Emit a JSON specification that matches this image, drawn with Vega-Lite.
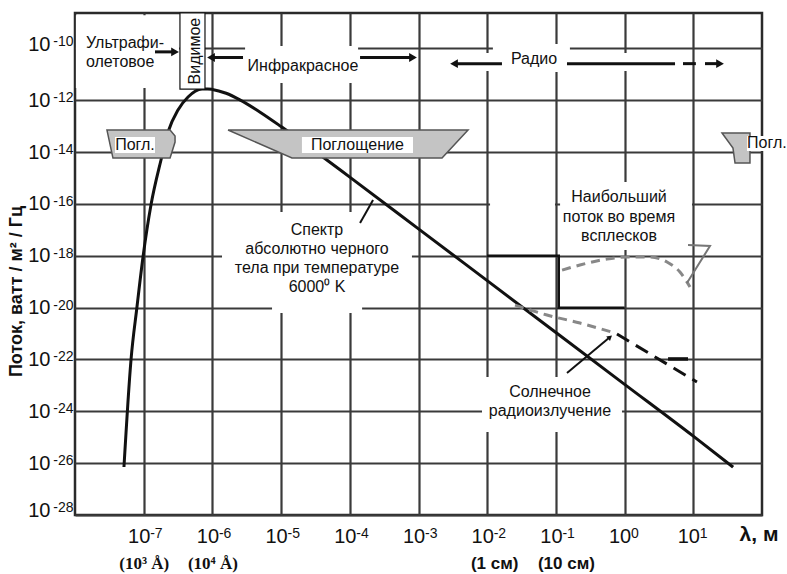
{
  "$schema": "https://vega.github.io/schema/vega-lite/v6.json",
  "width": 687,
  "height": 502,
  "autosize": {"type": "none"},
  "padding": {"left": 75, "top": 13, "right": 25, "bottom": 59},
  "background": "white",
  "config": {
    "view": {"stroke": "#2a2a2a", "strokeWidth": 2.5},
    "font": "Liberation Sans",
    "text": {"font": "Liberation Sans", "fontSize": 16, "color": "#111111"}
  },
  "datasets": {
    "wbox": [
      {"x": 1.03e-8, "x2": 3.27e-7, "y": 2.98e-12, "y2": 1.9e-9},
      {"x": 2.99e-6, "x2": 1.32e-4, "y": 4.64e-12, "y2": 1.24e-10},
      {"x": 2.43e-3, "x2": 8.95, "y": 1.35e-11, "y2": 6.67e-11},
      {"x": 0.0121, "x2": 0.16, "y": 1.23e-11, "y2": 1.48e-10},
      {"x": 1.38e-6, "x2": 8.03e-4, "y": 2.81e-20, "y2": 4.9e-17},
      {"x": 7.38e-6, "x2": 1.51e-4, "y": 6.21e-21, "y2": 4.79e-20},
      {"x": 0.115, "x2": 9.57, "y": 1.67e-18, "y2": 7.03e-16},
      {"x": 0.011, "x2": 0.097, "y": 6.4e-17, "y2": 1.42e-16},
      {"x": 8.4e-3, "x2": 0.916, "y": 1.59e-25, "y2": 2.11e-23}
    ],
    "bb": [
      {"x": 5.16e-8, "y": 7.11e-27},
      {"x": 6.53e-8, "y": 9.55e-23},
      {"x": 7.98e-8, "y": 1.06e-20},
      {"x": 9.77e-8, "y": 9.0e-19},
      {"x": 1.276e-7, "y": 9.12e-17},
      {"x": 1.786e-7, "y": 4.97e-15},
      {"x": 2.26e-7, "y": 5.97e-14},
      {"x": 3.155e-7, "y": 4.22e-13},
      {"x": 4.42e-7, "y": 1.34e-12},
      {"x": 7.06e-7, "y": 2.72e-12},
      {"x": 8.5e-7, "y": 2.76e-12},
      {"x": 1.0e-6, "y": 2.64e-12},
      {"x": 1.585e-6, "y": 1.87e-12},
      {"x": 2.512e-6, "y": 1.04e-12},
      {"x": 5.012e-6, "y": 3.41e-13},
      {"x": 1e-5, "y": 9.7e-14},
      {"x": 3.162e-5, "y": 1.06e-14},
      {"x": 1e-4, "y": 1.09e-15},
      {"x": 1e-3, "y": 1.1e-17},
      {"x": 1e-2, "y": 1.1e-19},
      {"x": 0.1, "y": 1.1e-21},
      {"x": 1, "y": 1.1e-23},
      {"x": 10, "y": 1.1e-25},
      {"x": 38, "y": 7.0e-27}
    ],
    "absorb": [
      {"id": "L", "x": 2.92e-8, "y": 7.13e-14, "y2": 7.13e-14},
      {"id": "L", "x": 3.57e-8, "y": 5.93e-15, "y2": 7.13e-14},
      {"id": "L", "x": 2.42e-7, "y": 5.93e-15, "y2": 7.13e-14},
      {"id": "L", "x": 2.86e-7, "y": 2.45e-14, "y2": 4.19e-14},
      {"id": "M", "x": 1.69e-6, "y": 7.13e-14, "y2": 7.13e-14},
      {"id": "M", "x": 1.44e-5, "y": 5.93e-15, "y2": 7.13e-14},
      {"id": "M", "x": 2.2e-3, "y": 5.93e-15, "y2": 7.13e-14},
      {"id": "M", "x": 5.26e-3, "y": 7.13e-14, "y2": 7.13e-14},
      {"id": "R", "x": 26.2, "y": 5.47e-14, "y2": 5.47e-14},
      {"id": "R", "x": 37.8, "y": 1.44e-14, "y2": 5.47e-14},
      {"id": "R", "x": 40.5, "y": 3.8e-15, "y2": 5.47e-14},
      {"id": "R", "x": 66.8, "y": 3.8e-15, "y2": 5.47e-14}
    ],
    "lbox": [
      {"x": 3.82e-8, "x2": 1.46e-7, "y": 9.25e-15, "y2": 3.83e-14},
      {"x": 2.01e-5, "x2": 8.32e-4, "y": 9.25e-15, "y2": 3.83e-14},
      {"x": 60.5, "x2": 231, "y": 1.1e-14, "y2": 4.19e-14}
    ],
    "step": [
      {"o": 1, "x": 0.01, "y": 1e-18},
      {"o": 2, "x": 0.11, "y": 1e-18},
      {"o": 3, "x": 0.11, "y": 1e-20},
      {"o": 4, "x": 1.0, "y": 1e-20}
    ],
    "burst": [
      {"x": 0.123, "y": 2.82e-19},
      {"x": 0.224, "y": 4.42e-19},
      {"x": 0.555, "y": 7.53e-19},
      {"x": 1.08, "y": 9.0e-19},
      {"x": 2.34, "y": 9.0e-19},
      {"x": 4.14, "y": 5.77e-19},
      {"x": 6.4, "y": 2.37e-19},
      {"x": 8.95, "y": 6.31e-20}
    ],
    "hook": [
      {"o": 1, "x": 8.38, "y": 2.63e-18},
      {"o": 2, "x": 17.5, "y": 2.4e-18},
      {"o": 3, "x": 8.09, "y": 8.9e-20}
    ],
    "quiet": [
      {"x": 0.0254, "y": 1.26e-20},
      {"x": 0.0741, "y": 5.2e-21},
      {"x": 0.224, "y": 2.55e-21},
      {"x": 0.724, "y": 1.05e-21}
    ],
    "quiet2": [
      {"x": 0.774, "y": 9.6e-22},
      {"x": 11.3, "y": 1.35e-23}
    ],
    "bar": [{"x": 4.29, "x2": 8.38, "y": 1.05e-22}],
    "ptr": [
      {"x": 1.41e-4, "x2": 2.18e-4, "y": 1.86e-17, "y2": 1.42e-16},
      {"x": 0.145, "x2": 0.614, "y": 3.02e-23, "y2": 7.36e-22}
    ],
    "arr": [
      {"x": 1.46e-7, "x2": 2.86e-7, "y": 7.4e-11},
      {"x": 9.55e-7, "x2": 2.79e-6, "y": 4.5e-11},
      {"x": 1.41e-4, "x2": 8.32e-4, "y": 4.5e-11},
      {"x": 3.29e-3, "x2": 0.0164, "y": 2.6e-11},
      {"x": 0.145, "x2": 5.42, "y": 2.6e-11},
      {"x": 7.08, "x2": 10.9, "y": 2.6e-11},
      {"x": 14.8, "x2": 22.9, "y": 2.6e-11}
    ],
    "heads": [
      {"x": 2.86e-7, "y": 7.4e-11, "s": "triangle-right", "a": 0, "sz": 80},
      {"x": 9.55e-7, "y": 4.5e-11, "s": "triangle-left", "a": 0, "sz": 80},
      {"x": 8.32e-4, "y": 4.5e-11, "s": "triangle-right", "a": 0, "sz": 80},
      {"x": 3.29e-3, "y": 2.6e-11, "s": "triangle-left", "a": 0, "sz": 80},
      {"x": 24.5, "y": 2.6e-11, "s": "triangle-right", "a": 0, "sz": 80},
      {"x": 0.614, "y": 7.36e-22, "s": "triangle-up", "a": 50, "sz": 35}
    ],
    "vbox": [{"x": 3.37e-7, "x2": 7.8e-7, "y": 2.72e-12, "y2": 2.34e-9}],
    "tleft": [
      {"t": "Ультрафи-", "x": 1.445e-8, "y": 1.62e-10},
      {"t": "олетовое", "x": 1.445e-8, "y": 3.02e-11}
    ],
    "tcenter": [
      {"t": "Инфракрасное", "x": 2.08e-5, "y": 2.09e-11},
      {"t": "Радио", "x": 0.048, "y": 3.89e-11},
      {"t": "Погл.", "x": 7.46e-8, "y": 1.88e-14},
      {"t": "Поглощение", "x": 1.29e-4, "y": 1.88e-14},
      {"t": "Погл.", "x": 118, "y": 2.25e-14},
      {"t": "Спектр", "x": 3.33e-5, "y": 9.89e-18},
      {"t": "абсолютно черного", "x": 3.33e-5, "y": 1.83e-18},
      {"t": "тела при температуре", "x": 3.33e-5, "y": 3.38e-19},
      {"t": "6000⁰ K", "x": 3.33e-5, "y": 6.25e-20},
      {"t": "Наибольший", "x": 0.829, "y": 1.86e-16},
      {"t": "поток во время", "x": 0.829, "y": 3.14e-17},
      {"t": "всплесков", "x": 0.829, "y": 5.81e-18},
      {"t": "Солнечное", "x": 0.082, "y": 5.56e-24},
      {"t": "радиоизлучение", "x": 0.082, "y": 1.03e-24}
    ],
    "trot": [{"t": "Видимое", "x": 5.58e-7, "y": 7.94e-11}],
    "ytitle": [{"t": "Поток, ватт / м² / Гц", "x": 1.41e-9, "y": 4.2e-20}]
  },
  "encoding": {
    "x": {"field": "x", "type": "quantitative", "scale": {"type": "log", "domain": [1e-8, 100], "nice": false}, "axis": null},
    "y": {"field": "y", "type": "quantitative", "scale": {"type": "log", "domain": [1e-28, 2.34e-9], "nice": false}, "axis": null}
  },
  "layer": [
    {
      "data": {"name": "wbox"},
      "mark": {"type": "rect", "fill": "white", "strokeWidth": 0},
      "encoding": {"x2": {"field": "x2"}, "y2": {"field": "y2"}}
    },
    {
      "data": {"name": "bb"},
      "mark": {"type": "line", "color": "#111111", "strokeWidth": 3, "interpolate": "monotone"},
      "encoding": {
        "x": {
          "field": "x", "type": "quantitative",
          "scale": {"type": "log", "domain": [1e-8, 100], "nice": false},
          "axis": {
            "orient": "bottom",
            "values": [1e-7, 1e-6, 1e-5, 1e-4, 1e-3, 1e-2, 1e-1, 1, 10],
            "grid": true, "gridColor": "#3a3a3a", "gridWidth": 2.2,
            "ticks": false, "domain": false, "labelOverlap": false, "labelFlush": false,
            "labelFont": "Liberation Sans", "labelFontSize": 20, "labelColor": "#111111", "labelPadding": 11, "labelOffset": -5,
            "labelExpr": "'10'",
            "title": "λ, м", "titleFont": "Liberation Sans", "titleFontSize": 21, "titleFontWeight": "bold", "titleColor": "#111111",
            "titleAnchor": "end", "titleAlign": "right", "titleX": 703, "titleY": 19, "titleBaseline": "middle"
          }
        },
        "y": {
          "field": "y", "type": "quantitative",
          "scale": {"type": "log", "domain": [1e-28, 2.34e-9], "nice": false},
          "axis": {
            "values": [1e-28, 1e-26, 1e-24, 1e-22, 1e-20, 1e-18, 1e-16, 1e-14, 1e-12, 1e-10],
            "grid": true, "gridColor": "#3a3a3a", "gridWidth": 2.2,
            "ticks": false, "domain": false, "labelOverlap": false, "labelFlush": false,
            "labelFont": "Liberation Sans", "labelFontSize": 20, "labelColor": "#111111", "labelPadding": 25,
            "labelOffset": {"condition": [{"test": "datum.value < 1e-27", "value": -5}, {"test": "datum.value > 1e-11", "value": -4}], "value": 0},
            "labelExpr": "'10'",
            "title": null
          }
        }
      }
    },
    {
      "data": {"name": "absorb"},
      "mark": {"type": "area", "fill": "#c4c4c4", "stroke": "#555555", "strokeWidth": 1.5, "opacity": 1},
      "encoding": {"y2": {"field": "y2"}, "detail": {"field": "id"}}
    },
    {
      "data": {"name": "lbox"},
      "mark": {"type": "rect", "fill": "white", "strokeWidth": 0},
      "encoding": {"x2": {"field": "x2"}, "y2": {"field": "y2"}}
    },
    {
      "data": {"name": "step"},
      "mark": {"type": "line", "color": "#111111", "strokeWidth": 2.5},
      "encoding": {
        "order": {"field": "o"},
        "x": {
          "field": "x", "type": "quantitative",
          "scale": {"type": "log", "domain": [1e-8, 100], "nice": false},
          "axis": {
            "orient": "bottom",
            "values": [1e-7, 1e-6, 0.01265, 0.14],
            "grid": false, "ticks": false, "domain": false, "labelOverlap": false, "labelFlush": false,
            "labelExpr": "datum.value < 5e-7 ? '(10³ Å)' : datum.value < 1e-5 ? '(10⁴ Å)' : datum.value < 0.05 ? '(1 см)' : '(10 см)'",
            "labelFont": {"condition": {"test": "datum.value < 1e-5", "value": "Liberation Serif"}, "value": "Liberation Sans"},
            "labelFontWeight": "bold", "labelFontSize": 17, "labelColor": "#111111", "labelPadding": 40,
            "title": null
          }
        }
      }
    },
    {
      "data": {"name": "burst"},
      "mark": {"type": "line", "color": "#888888", "strokeWidth": 3, "strokeDash": [9, 6], "interpolate": "monotone"},
      "encoding": {
        "x": {
          "field": "x", "type": "quantitative",
          "scale": {"type": "log", "domain": [1e-8, 100], "nice": false},
          "axis": {
            "orient": "bottom",
            "values": [1e-7, 1e-6, 1e-5, 1e-4, 1e-3, 1e-2, 1e-1, 1, 10],
            "grid": false, "ticks": false, "domain": false, "labelOverlap": false, "labelFlush": false,
            "labelFont": "Liberation Sans", "labelFontSize": 14, "labelColor": "#111111", "labelPadding": 11,
            "labelAlign": "left", "labelOffset": 6,
            "labelExpr": "'' + round(log(datum.value) / LN10)",
            "title": null
          }
        },
        "y": {
          "field": "y", "type": "quantitative",
          "scale": {"type": "log", "domain": [1e-28, 2.34e-9], "nice": false},
          "axis": {
            "orient": "left",
            "values": [1e-28, 1e-26, 1e-24, 1e-22, 1e-20, 1e-18, 1e-16, 1e-14, 1e-12, 1e-10],
            "grid": false, "ticks": false, "domain": false, "labelOverlap": false, "labelFlush": false,
            "labelFont": "Liberation Sans", "labelFontSize": 14, "labelColor": "#111111", "labelPadding": 2,
            "labelOffset": {"condition": [{"test": "datum.value < 1e-27", "value": -7.5}, {"test": "datum.value > 1e-11", "value": -6.5}], "value": -2.5},
            "labelExpr": "'' + round(log(datum.value) / LN10)",
            "title": null
          }
        }
      }
    },
    {
      "data": {"name": "hook"},
      "mark": {"type": "line", "color": "#777777", "strokeWidth": 2},
      "encoding": {"order": {"field": "o"}}
    },
    {
      "data": {"name": "quiet"},
      "mark": {"type": "line", "color": "#888888", "strokeWidth": 3, "strokeDash": [9, 6], "interpolate": "monotone"}
    },
    {
      "data": {"name": "quiet2"},
      "mark": {"type": "line", "color": "#111111", "strokeWidth": 3, "strokeDash": [14, 8]}
    },
    {
      "data": {"name": "bar"},
      "mark": {"type": "rule", "color": "#111111", "strokeWidth": 3.5},
      "encoding": {"x2": {"field": "x2"}}
    },
    {
      "data": {"name": "ptr"},
      "mark": {"type": "rule", "color": "#111111", "strokeWidth": 2},
      "encoding": {"x2": {"field": "x2"}, "y2": {"field": "y2"}}
    },
    {
      "data": {"name": "arr"},
      "mark": {"type": "rule", "color": "#111111", "strokeWidth": 3},
      "encoding": {"x2": {"field": "x2"}}
    },
    {
      "data": {"name": "heads"},
      "mark": {"type": "point", "filled": true, "color": "#111111", "opacity": 1, "strokeWidth": 0},
      "encoding": {
        "shape": {"field": "s", "type": "nominal", "scale": null},
        "angle": {"field": "a", "type": "quantitative", "scale": null},
        "size": {"field": "sz", "type": "quantitative", "scale": null}
      }
    },
    {
      "data": {"name": "vbox"},
      "mark": {"type": "rect", "fill": "white", "stroke": "#111111", "strokeWidth": 1.2},
      "encoding": {"x2": {"field": "x2"}, "y2": {"field": "y2"}}
    },
    {
      "data": {"name": "tleft"},
      "mark": {"type": "text", "align": "left", "baseline": "middle", "fontSize": 16, "font": "Liberation Sans", "color": "#111111"},
      "encoding": {"text": {"field": "t"}}
    },
    {
      "data": {"name": "tcenter"},
      "mark": {"type": "text", "align": "center", "baseline": "middle", "fontSize": 16, "font": "Liberation Sans", "color": "#111111"},
      "encoding": {"text": {"field": "t"}}
    },
    {
      "data": {"name": "trot"},
      "mark": {"type": "text", "align": "center", "baseline": "middle", "angle": 270, "fontSize": 16, "font": "Liberation Sans", "color": "#111111"},
      "encoding": {"text": {"field": "t"}}
    },
    {
      "data": {"name": "ytitle"},
      "mark": {"type": "text", "align": "center", "baseline": "middle", "angle": 270, "fontSize": 18, "fontWeight": "bold", "font": "Liberation Sans", "color": "#111111"},
      "encoding": {"text": {"field": "t"}}
    }
  ],
  "resolve": {"axis": {"x": "independent", "y": "independent"}}
}
